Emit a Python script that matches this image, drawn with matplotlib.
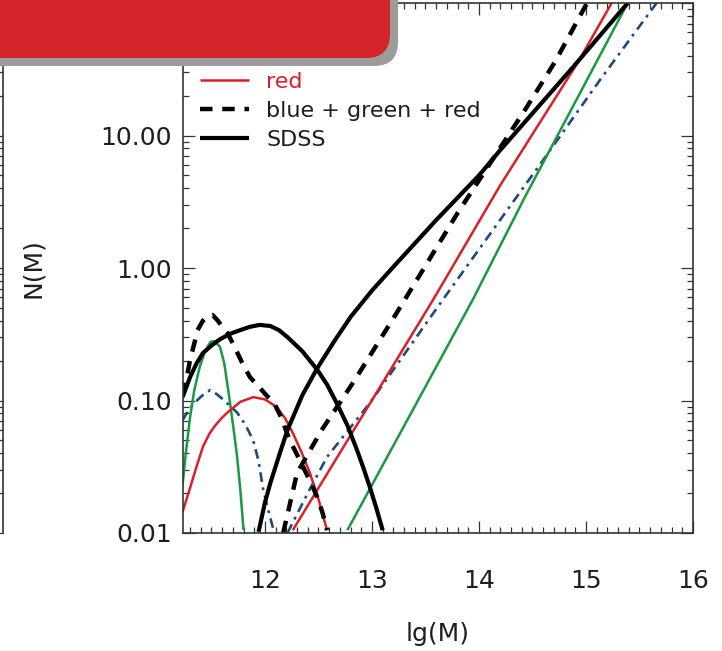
import matplotlib.pyplot as plt
import numpy as np
from matplotlib.patches import FancyBboxPatch
from matplotlib.transforms import ScaledTranslation
from matplotlib.ticker import MultipleLocator, LogLocator, NullFormatter, FuncFormatter

plt.rcParams['lines.scale_dashes'] = False
plt.rcParams['font.family'] = ['DejaVu Sans']

# low-mass bump and high-mass power law of each sample
blue_bump_x = [11.23, 11.30, 11.37, 11.43, 11.49, 11.56, 11.62, 11.68, 11.74, 11.82, 11.89,
               11.94, 11.98, 12.03, 12.08]
blue_bump_y = [0.071, 0.088, 0.101, 0.112, 0.120, 0.110, 0.100, 0.090, 0.081, 0.065, 0.050,
               0.035, 0.022, 0.015, 0.0105]
blue_line_x = [12.21, 12.40, 12.58, 12.98, 13.66, 14.60, 15.13, 15.66]
blue_line_y = [0.010, 0.020, 0.0375, 0.0957, 0.573, 6.53, 26.2, 100.0]

green_bump_x = [11.23, 11.26, 11.30, 11.34, 11.39, 11.44, 11.49, 11.53, 11.58, 11.62, 11.67,
                11.71, 11.74, 11.77, 11.80]
green_bump_y = [0.023, 0.040, 0.075, 0.120, 0.179, 0.235, 0.277, 0.280, 0.254, 0.190, 0.101,
                0.058, 0.0375, 0.021, 0.0105]
green_line_x = [12.77, 13.94, 14.43, 15.39]
green_line_y = [0.0105, 0.573, 3.44, 100.0]

red_bump_x = [11.23, 11.30, 11.36, 11.42, 11.48, 11.53, 11.59, 11.65, 11.77, 11.89, 12.00,
              12.11, 12.19, 12.26, 12.34, 12.42, 12.50, 12.58]
red_bump_y = [0.0144, 0.0219, 0.0316, 0.0447, 0.056, 0.064, 0.073, 0.0813, 0.0977, 0.106,
              0.102, 0.0893, 0.073, 0.0569, 0.041, 0.0284, 0.018, 0.0105]
red_line_x = [12.26, 13.57, 14.20, 14.92, 15.24]
red_line_y = [0.0105, 0.573, 4.23, 35.2, 100.0]

sum_bump_x = [11.23, 11.27, 11.30, 11.34, 11.37, 11.42, 11.47, 11.51, 11.56, 11.60, 11.65,
              11.72, 11.79, 11.86, 11.95, 12.02, 12.08, 12.15, 12.23, 12.30, 12.37, 12.44,
              12.50, 12.54, 12.58]
sum_bump_y = [0.110, 0.150, 0.202, 0.270, 0.340, 0.400, 0.435, 0.442, 0.400, 0.360, 0.323,
              0.250, 0.190, 0.150, 0.125, 0.108, 0.0975, 0.075, 0.0504, 0.039, 0.0299, 0.023,
              0.0177, 0.014, 0.0105]
sum_line_x = [12.17, 12.30, 12.53, 12.84, 13.23, 13.80, 14.43, 14.71, 15.01]
sum_line_y = [0.010, 0.0284, 0.0598, 0.143, 0.457, 2.6, 15.6, 35.9, 100.0]

sdss_bump_x = [11.23, 11.30, 11.36, 11.42, 11.50, 11.58, 11.68, 11.77, 11.86, 11.95, 12.05,
               12.13, 12.21, 12.35, 12.49, 12.58, 12.67, 12.77, 12.86, 12.92, 12.98, 13.04,
               13.10]
sdss_bump_y = [0.106, 0.150, 0.190, 0.228, 0.260, 0.290, 0.320, 0.340, 0.360, 0.372, 0.365,
               0.340, 0.301, 0.235, 0.170, 0.132, 0.0957, 0.065, 0.0423, 0.031, 0.0222, 0.0155,
               0.0105]
sdss_line_x = [11.94, 12.00, 12.05, 12.13, 12.21, 12.35, 12.49, 12.65, 12.80, 13.00, 13.19,
               13.60, 14.00, 14.20, 14.88, 15.39]
sdss_line_y = [0.0102, 0.017, 0.0238, 0.038, 0.0598, 0.110, 0.176, 0.282, 0.427, 0.676, 1.0,
               2.3, 5.0, 7.78, 32.9, 100.0]

y_ticks = [0.01, 0.1, 1, 10, 100]
x_ticks = [12, 13, 14, 15, 16]

c_blue = '#1f4a80'
c_green = '#1a9a40'
c_red = '#d92027'
c_text = '#1e1e1e'

series = [
    dict(label='blue', c=c_blue, lw=1.9, dashes=(7, 4, 2, 4), tc=c_blue,
         parts=[(blue_bump_x, blue_bump_y), (blue_line_x, blue_line_y)]),
    dict(label='green', c=c_green, lw=1.8, dashes=None, tc=c_green,
         parts=[(green_bump_x, green_bump_y), (green_line_x, green_line_y)]),
    dict(label='red', c=c_red, lw=1.8, dashes=None, tc=c_red,
         parts=[(red_bump_x, red_bump_y), (red_line_x, red_line_y)]),
    dict(label='blue + green + red', c='k', lw=3.2, dashes=(9, 7), tc=c_text,
         parts=[(sum_bump_x, sum_bump_y), (sum_line_x, sum_line_y)]),
    dict(label='SDSS', c='k', lw=3.0, dashes=None, tc=c_text,
         parts=[(sdss_bump_x, sdss_bump_y), (sdss_line_x, sdss_line_y)]),
]

fig = plt.figure(figsize=(7.22, 6.51), dpi=100)
ax = fig.add_axes([183 / 722, 1 - 533 / 651, 510 / 722, 530 / 651])

handles = []
for s in series:
    for i, (xs, ys) in enumerate(s['parts']):
        ln, = ax.plot(xs, ys, color=s['c'], lw=s['lw'], solid_capstyle='butt',
                      solid_joinstyle='round')
        if s['dashes'] is not None:
            ln.set_dashes(s['dashes'])
        if i == 0:
            handles.append(ln)

ax.set_yscale('log')
ax.set_xlim(11.234, 16)
ax.set_ylim(0.01, 100)
ax.set_xticks(x_ticks)
ax.xaxis.set_minor_locator(MultipleLocator(0.1))
ax.set_yticks(y_ticks)
ax.yaxis.set_minor_locator(LogLocator(base=10, subs=np.arange(2, 10)))
ax.yaxis.set_minor_formatter(NullFormatter())
ax.yaxis.set_major_formatter(FuncFormatter(lambda v, p: f'{v:.2f}'))

ax.tick_params(which='both', direction='in', top=True, right=True, width=0.9,
               colors='#333333', labelcolor=c_text)
ax.tick_params(which='major', length=8.5)
ax.tick_params(which='minor', length=4.5)
ax.tick_params(axis='x', which='major', pad=26, labelsize=18)
ax.tick_params(axis='y', which='major', pad=8, labelsize=18)
for sp in ax.spines.values():
    sp.set_linewidth(1.2)
    sp.set_color('#333333')

# top label sits a little lower so it stays inside the figure
top_lab = ax.yaxis.get_major_ticks()[-1].label1
top_lab.set_transform(top_lab.get_transform() + ScaledTranslation(0, -0.15, fig.dpi_scale_trans))

ax.set_xlabel('lg(M)', fontsize=18, color=c_text)
ax.xaxis.set_label_coords(0.5, -0.168)
ax.set_ylabel('N(M)', fontsize=18, color=c_text)
ax.yaxis.set_label_coords(-0.27, 0.5)

leg = ax.legend(handles, [s['label'] for s in series], loc='upper left',
                bbox_to_anchor=(0.033, 0.979), frameon=False, fontsize=16,
                borderpad=0, borderaxespad=0, handlelength=2.2,
                handletextpad=0.8, labelspacing=0.4)
for t, s in zip(leg.get_texts(), series):
    t.set_color(s['tc'])

# edge of the neighbouring panel on the left
ax0 = fig.add_axes([-0.5, 1 - 533 / 651, 0.5 + 3 / 722, 530 / 651])
ax0.set_yscale('log')
ax0.set_ylim(0.01, 100)
ax0.set_yticks(y_ticks)
ax0.yaxis.set_minor_locator(LogLocator(base=10, subs=np.arange(2, 10)))
ax0.yaxis.set_minor_formatter(NullFormatter())
ax0.set_xticks([])
for k in ['left', 'top', 'bottom']:
    ax0.spines[k].set_visible(False)
ax0.spines['right'].set_linewidth(1.2)
ax0.spines['right'].set_color('#333333')
ax0.tick_params(axis='y', which='both', direction='in', left=False, right=True,
                labelleft=False, labelright=False, width=0.9, colors='#333333')
ax0.tick_params(which='major', length=8.5)
ax0.tick_params(which='minor', length=4.5)
ax0.patch.set_alpha(0)

# red slide banner over the top left corner
ov = fig.add_axes([0, 0, 1, 1], zorder=10)
ov.set_xlim(0, 722)
ov.set_ylim(651, 0)
ov.axis('off')
ov.patch.set_alpha(0)
ov.add_patch(FancyBboxPatch((-40, -40), 438, 106, boxstyle='round,pad=0,rounding_size=24',
                            fc='#9c9c9c', ec='none'))
ov.add_patch(FancyBboxPatch((-40, -40), 430, 98, boxstyle='round,pad=0,rounding_size=24',
                            fc='#d81b20', ec='none', alpha=0.93))

fig.savefig('out.png', dpi=100)
